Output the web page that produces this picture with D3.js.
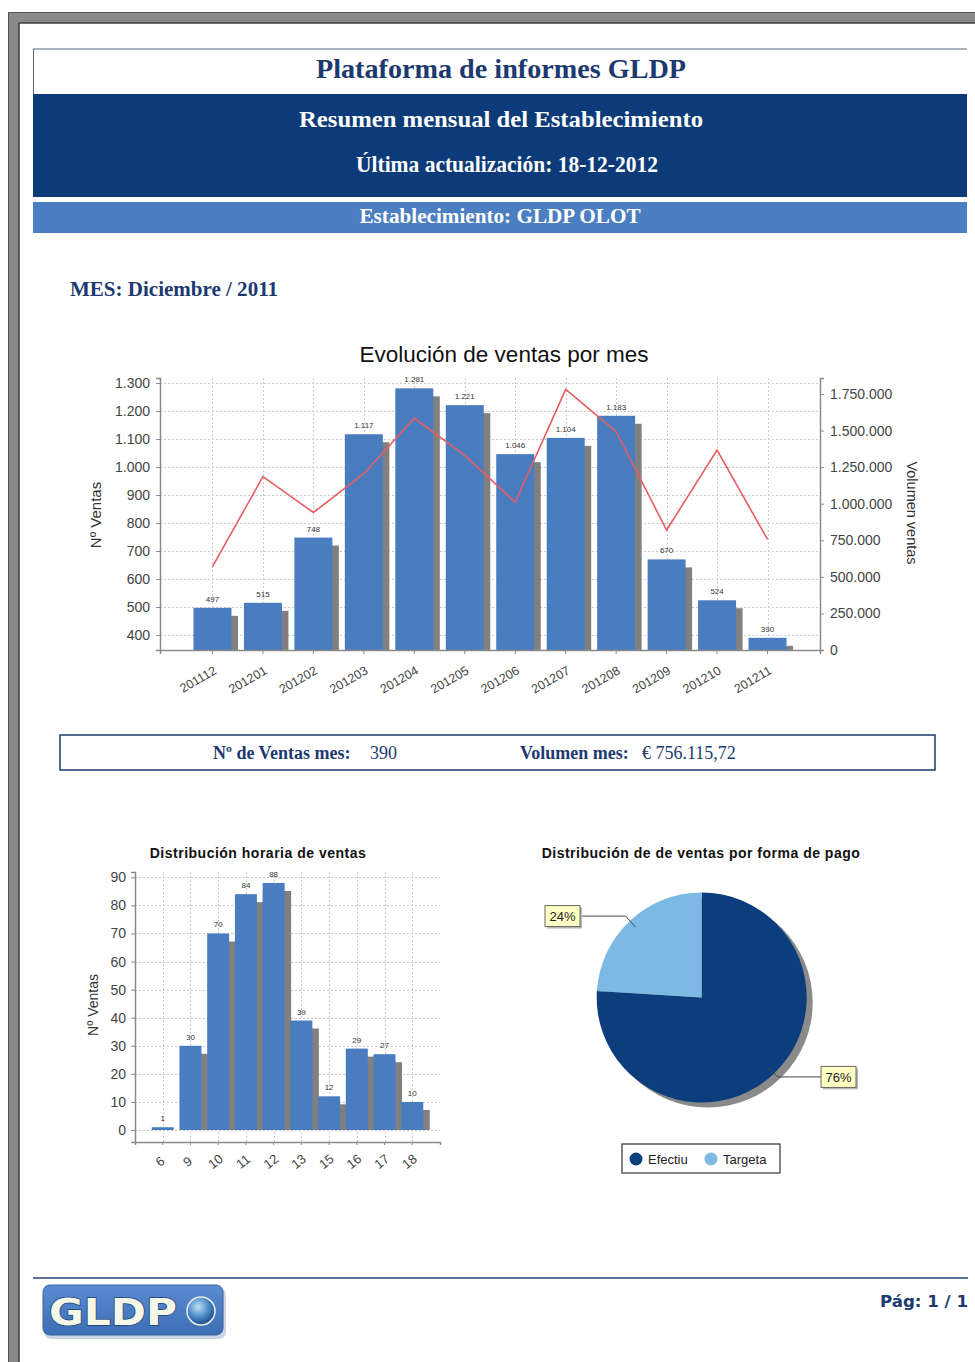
<!DOCTYPE html>
<html>
<head>
<meta charset="utf-8">
<script src="https://cdn.jsdelivr.net/npm/d3@7"></script>
<style>
  html, body { margin: 0; padding: 0; background: #fff; }
  svg { display: block; }
</style>
</head>
<body>
<svg id="page" width="975" height="1362"></svg>
<script>
// ---- Monthly sales data ----
const months = ["201112","201201","201202","201203","201204","201205","201206","201207","201208","201209","201210","201211"];
const salesCount = [497, 515, 748, 1117, 1281, 1221, 1046, 1104, 1183, 670, 524, 390];
const salesVolume = [570000, 1185000, 940000, 1205000, 1585000, 1330000, 1010000, 1782000, 1492000, 820000, 1367000, 756116];
const countTicks = [400, 500, 600, 700, 800, 900, 1000, 1100, 1200, 1300];
const volumeTicks = [0, 250000, 500000, 750000, 1000000, 1250000, 1500000, 1750000];

// ---- Hourly distribution ----
const hours = ["6","9","10","11","12","13","15","16","17","18"];
const hourSales = [1, 30, 70, 84, 88, 39, 12, 29, 27, 10];
const hourTicks = [0, 10, 20, 30, 40, 50, 60, 70, 80, 90];

// ---- Payment method split ----
const payMethods = ["Efectiu", "Targeta"];
const payShare = [76, 24];
const payColors = ["#0c3d7d", "#7cb9e3"];

const fmt = d3.formatLocale({decimal: ",", thousands: ".", grouping: [3], currency: ["€ ", ""]});
const fInt = fmt.format(",d");

const svg = d3.select("#page");
const defs = svg.append("defs");
const SANS = "'Liberation Sans', Arial, sans-serif";
const SERIF = "'Liberation Serif', 'Times New Roman', serif";
const NAVY = "#1c3a70";

// ---- Page frame ----
svg.append("rect").attr("x", 0).attr("y", 0).attr("width", 975).attr("height", 1362).attr("fill", "#fff");
svg.append("rect").attr("x", 8).attr("y", 12).attr("width", 967).attr("height", 11).attr("fill", "#8a8a8a");
svg.append("rect").attr("x", 8).attr("y", 12).attr("width", 11).attr("height", 1350).attr("fill", "#8a8a8a");
svg.append("line").attr("x1", 19).attr("y1", 23).attr("x2", 975).attr("y2", 23).attr("stroke", "#3c3c3c").attr("stroke-width", 1.5);
svg.append("line").attr("x1", 19).attr("y1", 23).attr("x2", 19).attr("y2", 1362).attr("stroke", "#3c3c3c").attr("stroke-width", 1.5);
svg.append("line").attr("x1", 8).attr("y1", 12.5).attr("x2", 975).attr("y2", 12.5).attr("stroke", "#555").attr("stroke-width", 1);
svg.append("line").attr("x1", 8.5).attr("y1", 12).attr("x2", 8.5).attr("y2", 1362).attr("stroke", "#555").attr("stroke-width", 1);

// ---- Report header ----
function headText(x, y, size, width, color, str) {
  return svg.append("text").attr("x", x).attr("y", y).attr("text-anchor", "middle")
    .attr("font-family", SERIF).attr("font-weight", "bold").attr("font-size", size).attr("fill", color)
    .attr("textLength", width).attr("lengthAdjust", "spacingAndGlyphs").text(str);
}
svg.append("line").attr("x1", 33).attr("y1", 49).attr("x2", 967).attr("y2", 49).attr("stroke", "#55657d").attr("stroke-width", 1.2);
svg.append("line").attr("x1", 33.5).attr("y1", 49).attr("x2", 33.5).attr("y2", 94).attr("stroke", "#55657d").attr("stroke-width", 1);
headText(501, 78, 27, 370, NAVY, "Plataforma de informes GLDP");
svg.append("rect").attr("x", 33).attr("y", 94).attr("width", 934).attr("height", 103).attr("fill", "#0d3b79");
headText(501, 127, 24, 404, "#fff", "Resumen mensual del Establecimiento");
headText(507, 172, 24, 302, "#fff", "Última actualización:  18-12-2012");
svg.append("rect").attr("x", 33).attr("y", 202).attr("width", 934).attr("height", 31).attr("fill", "#4c7fc1");
headText(500, 223, 21, 281, "#fff", "Establecimiento: GLDP OLOT");
svg.append("text").attr("x", 70).attr("y", 296)
  .attr("font-family", SERIF).attr("font-weight", "bold").attr("font-size", 21).attr("fill", NAVY)
  .attr("textLength", 208).attr("lengthAdjust", "spacingAndGlyphs")
  .text("MES: Diciembre / 2011");

// ---- Monthly evolution chart ----
(function () {
  const L = 160, R = 820, T = 378, B = 650;
  const g = svg.append("g");
  g.append("text").attr("x", 504).attr("y", 362).attr("text-anchor", "middle")
    .attr("font-family", SANS).attr("font-size", 22.5).attr("fill", "#111")
    .text("Evolución de ventas por mes");

  const x = d3.scaleBand().domain(months).range([L, R]).paddingInner(0).paddingOuter(0.54);
  const y = d3.scaleLinear().domain([346.4, 1317.9]).range([B, T]);
  const y2 = d3.scaleLinear().domain([0, 1859450]).range([B, T]);
  const cx = d => x(d) + x.bandwidth() / 2;

  defs.append("clipPath").attr("id", "clipMain")
    .append("rect").attr("x", L).attr("y", T).attr("width", R - L).attr("height", B - T);

  // grid
  const grid = g.append("g").attr("stroke", "#c9c9c9").attr("stroke-dasharray", "2,2").attr("stroke-width", 1);
  grid.selectAll(".h").data(countTicks).join("line")
    .attr("x1", L).attr("x2", R).attr("y1", d => Math.round(y(d)) + 0.5).attr("y2", d => Math.round(y(d)) + 0.5);
  grid.selectAll(".v").data(months).join("line")
    .attr("y1", T).attr("y2", B).attr("x1", d => Math.round(cx(d)) + 0.5).attr("x2", d => Math.round(cx(d)) + 0.5);

  // bars with drop shadow
  const bw = 38;
  const bars = g.append("g").attr("clip-path", "url(#clipMain)");
  bars.selectAll(".sh").data(months).join("rect")
    .attr("x", (d) => cx(d) - bw / 2 + 6.5).attr("y", (d, i) => y(salesCount[i]) + 8)
    .attr("width", bw).attr("height", (d, i) => B - y(salesCount[i]))
    .attr("fill", "#808080");
  bars.selectAll(".bar").data(months).join("rect")
    .attr("x", d => cx(d) - bw / 2).attr("y", (d, i) => y(salesCount[i]))
    .attr("width", bw).attr("height", (d, i) => B - y(salesCount[i]))
    .attr("fill", "#4a7dc0");

  // volume line
  const line = d3.line().x((d, i) => cx(months[i])).y(d => y2(d));
  g.append("path").datum(salesVolume).attr("d", line)
    .attr("fill", "none").attr("stroke", "#e65d63").attr("stroke-width", 1.6);

  // value labels
  g.selectAll(".lbl").data(months).join("text")
    .attr("x", d => cx(d)).attr("y", (d, i) => y(salesCount[i]) - 6)
    .attr("text-anchor", "middle").attr("font-family", SANS).attr("font-size", 8).attr("fill", "#333")
    .text((d, i) => fInt(salesCount[i]));

  // axes
  const axL = g.append("g").attr("transform", `translate(${L},0)`)
    .call(d3.axisLeft(y).tickValues(countTicks).tickFormat(fInt).tickSize(4).tickPadding(6));
  const axR = g.append("g").attr("transform", `translate(${R},0)`)
    .call(d3.axisRight(y2).tickValues(volumeTicks).tickFormat(fInt).tickSize(4).tickPadding(6));
  const axB = g.append("g").attr("transform", `translate(0,${B})`)
    .call(d3.axisBottom(x).tickSize(4).tickPadding(4));
  [axL, axR, axB].forEach(a => {
    a.select(".domain").attr("stroke", "#8a8a8a").attr("stroke-width", 1.5);
    a.selectAll(".tick line").attr("stroke", "#8a8a8a");
    a.selectAll("text").attr("font-family", SANS).attr("fill", "#444");
  });
  axL.selectAll("text").attr("font-size", 14);
  axR.selectAll("text").attr("font-size", 14);
  axB.selectAll("text").attr("font-size", 12.5)
    .attr("text-anchor", "end").attr("dy", null).attr("y", 0).attr("x", 0)
    .attr("transform", "translate(5,23) rotate(-30)");

  g.append("text").attr("transform", "translate(101,515) rotate(-90)").attr("text-anchor", "middle")
    .attr("font-family", SANS).attr("font-size", 15).attr("fill", "#333").text("Nº Ventas");
  g.append("text").attr("transform", "translate(907,513) rotate(90)").attr("text-anchor", "middle")
    .attr("font-family", SANS).attr("font-size", 14.5).attr("fill", "#333").text("Volumen ventas");
})();

// ---- Month summary box ----
(function () {
  const g = svg.append("g").attr("font-family", SERIF).attr("font-size", 18).attr("fill", NAVY);
  g.append("rect").attr("x", 60).attr("y", 735).attr("width", 875).attr("height", 35)
    .attr("fill", "none").attr("stroke", "#1d3b6a").attr("stroke-width", 1.5);
  g.append("text").attr("x", 213).attr("y", 759).attr("font-weight", "bold").text("Nº de Ventas mes:");
  g.append("text").attr("x", 370).attr("y", 759).text(fInt(salesCount[salesCount.length - 1]));
  g.append("text").attr("x", 520).attr("y", 759).attr("font-weight", "bold").text("Volumen mes:");
  g.append("text").attr("x", 642).attr("y", 759).text("€ 756.115,72");
})();

// ---- Hourly distribution chart ----
(function () {
  const L = 135, R = 440, T = 872, B = 1142;
  const g = svg.append("g");
  g.append("text").attr("x", 258).attr("y", 858).attr("text-anchor", "middle")
    .attr("font-family", SANS).attr("font-weight", "bold").attr("font-size", 14).attr("letter-spacing", 0.5)
    .attr("fill", "#111").text("Distribución horaria de ventas");

  const x = d3.scaleBand().domain(hours).range([L, R]).paddingInner(0).paddingOuter(0.5);
  const y = d3.scaleLinear().domain([-4.27, 91.9]).range([B, T]);
  const cx = d => x(d) + x.bandwidth() / 2;

  const grid = g.append("g").attr("stroke", "#c9c9c9").attr("stroke-dasharray", "2,2");
  grid.selectAll(".h").data(hourTicks).join("line")
    .attr("x1", L).attr("x2", R).attr("y1", d => Math.round(y(d)) + 0.5).attr("y2", d => Math.round(y(d)) + 0.5);
  grid.selectAll(".v").data(hours).join("line")
    .attr("y1", T).attr("y2", B).attr("x1", d => Math.round(cx(d)) + 0.5).attr("x2", d => Math.round(cx(d)) + 0.5);

  const bw = 22;
  const bars = g.append("g");
  bars.selectAll(".sh").data(hours).join("rect")
    .attr("x", d => cx(d) - bw / 2 + 6.5).attr("y", (d, i) => y(hourSales[i]) + 8)
    .attr("width", bw).attr("height", (d, i) => Math.max(0, y(0) - y(hourSales[i]) - 8))
    .attr("fill", "#808080");
  bars.selectAll(".bar").data(hours).join("rect")
    .attr("x", d => cx(d) - bw / 2).attr("y", (d, i) => y(hourSales[i]))
    .attr("width", bw).attr("height", (d, i) => y(0) - y(hourSales[i]))
    .attr("fill", "#4a7dc0");

  g.selectAll(".lbl").data(hours).join("text")
    .attr("x", d => cx(d)).attr("y", (d, i) => y(hourSales[i]) - 6)
    .attr("text-anchor", "middle").attr("font-family", SANS).attr("font-size", 8).attr("fill", "#333")
    .text((d, i) => hourSales[i]);

  const axL = g.append("g").attr("transform", `translate(${L},0)`)
    .call(d3.axisLeft(y).tickValues(hourTicks).tickSize(4).tickPadding(5));
  const axB = g.append("g").attr("transform", `translate(0,${B})`)
    .call(d3.axisBottom(x).tickSize(3).tickPadding(4));
  [axL, axB].forEach(a => {
    a.select(".domain").attr("stroke", "#8a8a8a").attr("stroke-width", 1.5);
    a.selectAll(".tick line").attr("stroke", "#8a8a8a");
    a.selectAll("text").attr("font-family", SANS).attr("fill", "#444");
  });
  axL.selectAll("text").attr("font-size", 14);
  axB.selectAll("text").attr("font-size", 13)
    .attr("text-anchor", "middle").attr("dy", null).attr("y", 0).attr("x", 0)
    .attr("transform", "translate(0,23) rotate(-38)");

  g.append("text").attr("transform", "translate(98,1005) rotate(-90)").attr("text-anchor", "middle")
    .attr("font-family", SANS).attr("font-size", 14).attr("fill", "#333").text("Nº Ventas");
})();

// ---- Payment method pie ----
(function () {
  const cxp = 701.7, cyp = 997.5, r = 105;
  const g = svg.append("g");
  g.append("text").attr("x", 701).attr("y", 858).attr("text-anchor", "middle")
    .attr("font-family", SANS).attr("font-weight", "bold").attr("font-size", 14).attr("letter-spacing", 0.5)
    .attr("fill", "#111").text("Distribución de de ventas por forma de pago");

  const data = payMethods.map((m, i) => ({name: m, value: payShare[i], color: payColors[i]}));
  const arcs = d3.pie().sort(null).value(d => d.value)(data);
  const arc = d3.arc().innerRadius(0).outerRadius(r);

  g.append("circle").attr("cx", cxp + 6).attr("cy", cyp + 5).attr("r", r).attr("fill", "#8a8a8a");
  const pg = g.append("g").attr("transform", `translate(${cxp},${cyp})`);
  pg.selectAll("path").data(arcs).join("path").attr("d", arc).attr("fill", d => d.data.color);

  // labels in side columns with elbow connectors
  const labelBoxes = { Efectiu: {x: 821, side: 1}, Targeta: {x: 580, side: -1} };
  arcs.forEach(a => {
    const mid = (a.startAngle + a.endAngle) / 2;
    const ax = cxp + Math.sin(mid) * r * 0.92, ay = cyp - Math.cos(mid) * r * 0.92;
    const side = labelBoxes[a.data.name].side;
    const ex = ax + side * 10, ey = ay + (Math.cos(mid) > 0 ? -11 : 9);
    const bx = labelBoxes[a.data.name].x;
    g.append("polyline").attr("points", `${ax},${ay} ${ex},${ey} ${bx},${ey}`)
      .attr("fill", "none").attr("stroke", "#444").attr("stroke-width", 1);
    const w = 35, h = 21;
    const rx = side > 0 ? bx : bx - w;
    g.append("rect").attr("x", rx + 2).attr("y", ey - h / 2 + 2).attr("width", w).attr("height", h).attr("fill", "#b8b8b8");
    g.append("rect").attr("x", rx).attr("y", ey - h / 2).attr("width", w).attr("height", h)
      .attr("fill", "#ffffc4").attr("stroke", "#666").attr("stroke-width", 1);
    g.append("text").attr("x", rx + w / 2).attr("y", ey + 5).attr("text-anchor", "middle")
      .attr("font-family", SANS).attr("font-size", 13).attr("fill", "#222")
      .text(Math.round(a.data.value) + "%");
  });

  // legend
  const lg = g.append("g");
  lg.append("rect").attr("x", 622).attr("y", 1144).attr("width", 158).attr("height", 29)
    .attr("fill", "#fff").attr("stroke", "#333").attr("stroke-width", 1.2);
  const items = [{x: 636}, {x: 711}];
  data.forEach((d, i) => {
    lg.append("circle").attr("cx", items[i].x).attr("cy", 1159).attr("r", 6.5).attr("fill", d.color);
    lg.append("text").attr("x", items[i].x + 12).attr("y", 1164)
      .attr("font-family", SANS).attr("font-size", 13).attr("fill", "#222").text(d.name);
  });
})();

// ---- Footer ----
(function () {
  svg.append("line").attr("x1", 33).attr("y1", 1278).attr("x2", 968).attr("y2", 1278)
    .attr("stroke", "#24416e").attr("stroke-width", 1.5);
  const logo = svg.append("g");
  const lgGrad = defs.append("linearGradient").attr("id", "logoBg").attr("x1", 0).attr("y1", 0).attr("x2", 0).attr("y2", 1);
  lgGrad.append("stop").attr("offset", "0%").attr("stop-color", "#5b8bd0");
  lgGrad.append("stop").attr("offset", "100%").attr("stop-color", "#3d6db3");
  const globe = defs.append("radialGradient").attr("id", "globe").attr("cx", "40%").attr("cy", "35%").attr("r", "65%");
  globe.append("stop").attr("offset", "0%").attr("stop-color", "#bfe2f7");
  globe.append("stop").attr("offset", "55%").attr("stop-color", "#4f8ec9");
  globe.append("stop").attr("offset", "100%").attr("stop-color", "#1d4f8c");
  logo.append("rect").attr("x", 44).attr("y", 1288).attr("width", 182).attr("height", 51).attr("rx", 7)
    .attr("fill", "#c9d4e4");
  logo.append("rect").attr("x", 43).attr("y", 1285).attr("width", 180).attr("height", 50).attr("rx", 7)
    .attr("fill", "url(#logoBg)").attr("stroke", "#3a62a0").attr("stroke-width", 1);
  logo.append("text").attr("x", 49).attr("y", 1325)
    .attr("font-family", "'DejaVu Sans', sans-serif").attr("font-weight", "bold").attr("font-size", 38)
    .attr("textLength", 128).attr("lengthAdjust", "spacingAndGlyphs")
    .attr("fill", "#f4f8e8").attr("stroke", "#1d3f78").attr("stroke-width", 1.4)
    .attr("paint-order", "stroke").text("GLDP");
  logo.append("circle").attr("cx", 201).attr("cy", 1311).attr("r", 14).attr("fill", "url(#globe)")
    .attr("stroke", "#e8eef8").attr("stroke-width", 1.5);
  svg.append("text").attr("x", 968).attr("y", 1307).attr("text-anchor", "end")
    .attr("font-family", "'DejaVu Sans', sans-serif").attr("font-weight", "bold").attr("font-size", 16)
    .attr("textLength", 88).attr("lengthAdjust", "spacingAndGlyphs")
    .attr("fill", NAVY).text("Pág: 1 / 1");
})();
</script>
</body>
</html>
